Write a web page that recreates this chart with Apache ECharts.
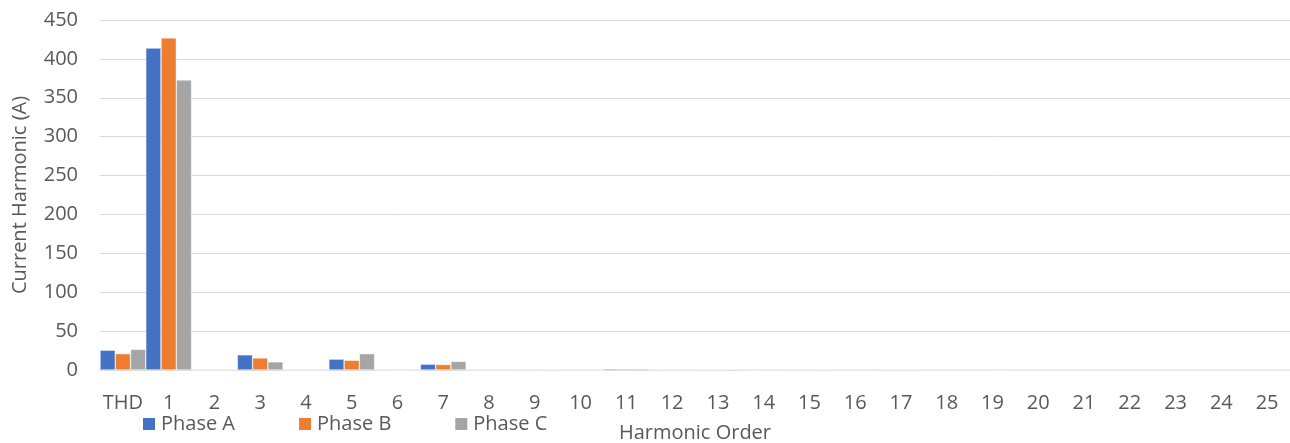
<!DOCTYPE html>
<html>
<head>
<meta charset="utf-8">
<script src="https://cdn.jsdelivr.net/npm/echarts@6/dist/echarts.min.js"></script>
<style>
  html, body { margin: 0; padding: 0; background: #fff; }
  #chart { width: 1290px; height: 443px; }
</style>
</head>
<body>
<div id="chart"></div>
<script>
// Harmonic orders (THD plus orders 1–25)
const categories = ['THD', '1', '2', '3', '4', '5', '6', '7', '8', '9', '10', '11', '12',
  '13', '14', '15', '16', '17', '18', '19', '20', '21', '22', '23', '24', '25'];

// Current harmonic magnitudes per phase (A)
const phaseA = [25.5, 414, 0, 19.5, 0, 14, 0, 7.5, 0, 0.2, 0, 1.5, 0.4, 0.3, 0, 0.2, 0, 0.5, 0, 0, 0, 0, 0, 0, 0, 0];
const phaseB = [21, 427, 0, 15.5, 0, 12.5, 0, 7, 0, 0.2, 0, 1.5, 0.2, 0.3, 0, 0.2, 0, 0.5, 0, 0, 0, 0, 0, 0, 0, 0];
const phaseC = [26.5, 373, 0, 10.5, 0, 21, 0, 11, 0, 0.5, 0, 1.5, 0.2, 0.8, 0, 0.5, 0, 0.5, 0, 0, 0, 0, 0, 0, 0, 0];

const yTicks = { min: 0, max: 450, interval: 50 };

const font = '"Open Sans", "Liberation Sans", sans-serif';
const textColor = '#595959';
const fontSize = 20;

const chart = echarts.init(document.getElementById('chart'));

function barSeries(name, data, color) {
  return {
    name: name,
    type: 'bar',
    data: data,
    barGap: '0%',
    barCategoryGap: '0%',
    itemStyle: { color: color, borderColor: '#fff', borderWidth: 0.5 }
  };
}

chart.setOption({
  animation: false,
  textStyle: { fontFamily: font, color: textColor },
  grid: { left: 100, right: 0, top: 20, bottom: 73, containLabel: false, outerBoundsMode: 'none' },
  legend: {
    left: 141,
    top: 414,
    padding: 0,
    itemWidth: 14,
    itemHeight: 14,
    itemGap: 62,
    icon: 'rect',
    textStyle: { fontFamily: font, fontSize: fontSize, color: textColor },
    data: ['Phase A', 'Phase B', 'Phase C']
  },
  xAxis: {
    type: 'category',
    data: categories,
    name: 'Harmonic Order',
    nameLocation: 'middle',
    nameGap: 53,
    nameTextStyle: { fontFamily: font, fontSize: fontSize, color: textColor },
    axisLine: { lineStyle: { color: '#d9d9d9', width: 1.5 } },
    axisTick: { show: false },
    axisLabel: { fontFamily: font, fontSize: fontSize, color: textColor, margin: 23, interval: 0 }
  },
  yAxis: {
    type: 'value',
    min: yTicks.min,
    max: yTicks.max,
    interval: yTicks.interval,
    name: 'Current Harmonic (A)',
    nameLocation: 'middle',
    nameGap: 70,
    nameTextStyle: { fontFamily: font, fontSize: fontSize, color: textColor },
    axisLine: { show: false },
    axisTick: { show: false },
    axisLabel: { fontFamily: font, fontSize: fontSize, color: textColor, margin: 22 },
    splitLine: { lineStyle: { color: '#d9d9d9', width: 1 } }
  },
  series: [
    barSeries('Phase A', phaseA, '#4472c4'),
    barSeries('Phase B', phaseB, '#ed7d31'),
    barSeries('Phase C', phaseC, '#a5a5a5')
  ]
});
</script>
</body>
</html>
